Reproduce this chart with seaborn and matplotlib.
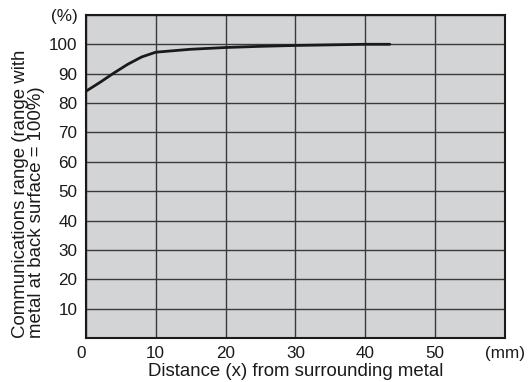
import pandas as pd
import seaborn as sns
import matplotlib.pyplot as plt

# curve
distance = [0, 2, 4, 6, 8, 10, 15, 20, 25, 30, 35, 40, 43.5]
comm_range = [84, 87, 90.2, 93.2, 95.7, 97.3, 98.3, 98.9, 99.3, 99.6, 99.8, 100, 100]

x_ticks = [0, 10, 20, 30, 40, 50, 60]
x_labels = ["0", "10", "20", "30", "40", "50", "(mm)"]
y_ticks = [10, 20, 30, 40, 50, 60, 70, 80, 90, 100, 110]
y_labels = ["10", "20", "30", "40", "50", "60", "70", "80", "90", "100", "(%)"]

df = pd.DataFrame({"x": distance, "y": comm_range})

sns.set_style("white")
plt.rcParams["font.family"] = ["Liberation Sans", "DejaVu Sans"]

fig = plt.figure(figsize=(5.3, 3.82), dpi=100)
ax = fig.add_axes([0.162, 0.115, 0.791, 0.846])
ax.set_facecolor("#d3d4d6")

sns.lineplot(data=df, x="x", y="y", ax=ax, color="#1a1a1a", linewidth=2)

ax.set_xlim(0, 60)
ax.set_ylim(0, 110)
ax.set_xticks(x_ticks)
ax.set_xticklabels(x_labels)
ax.set_yticks(y_ticks)
ax.set_yticklabels(y_labels)
ax.tick_params(length=0, labelsize=12.3, colors="#1a1a1a", pad=6)
ax.get_xticklabels()[0].set_ha("right")
ax.grid(True, color="#3a3a3a", linewidth=1)
ax.set_axisbelow(True)
for s in ax.spines.values():
    s.set_color("#1a1a1a")
    s.set_linewidth(1.5)

ax.set_xlabel("Distance (x) from surrounding metal", fontsize=13.4, color="#1a1a1a", labelpad=1)
ax.set_ylabel("")
fig.text(0.053, 0.115, "Communications range (range with\nmetal at back surface = 100%)",
         rotation=90, ha="center", va="bottom", multialignment="left",
         fontsize=13.4, color="#1a1a1a", linespacing=0.92)

plt.savefig("out.png", dpi=100)
